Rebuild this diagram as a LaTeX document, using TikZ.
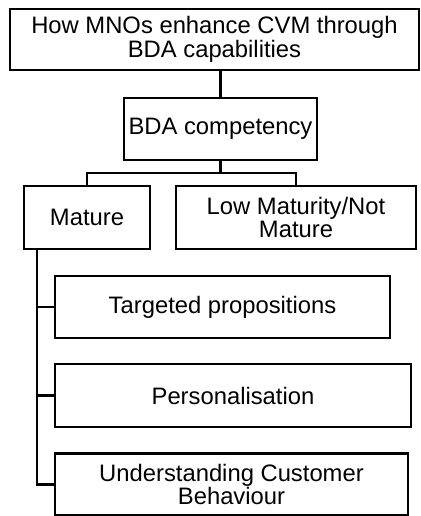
\documentclass[tikz,border=0pt]{standalone}
\usepackage{fontspec}
\setmainfont{Liberation Sans}
\begin{document}
\begin{tikzpicture}[x=1pt,y=-1pt,
  box/.style={draw=black,line width=2.2pt,fill=white,align=center,inner sep=0pt,
    font=\fontsize{23.8}{23.5}\selectfont},
  link/.style={draw=black,line width=2.2pt}]
\useasboundingbox (0,0) rectangle (420,516);
% boxes
\node[box,minimum width=409pt,minimum height=61pt] (top) at (214.5,39.5) {How MNOs enhance CVM through\\BDA capabilities};
\node[box,minimum width=193pt,minimum height=62pt] (bda) at (220.5,129) {BDA competency};
\node[box,minimum width=126pt,minimum height=63pt] (mature) at (87,217.5) {Mature};
\node[box,minimum width=240pt,minimum height=63pt] (low) at (296,217.5) {Low Maturity/Not\\Mature};
\node[box,minimum width=335pt,minimum height=62pt] (tp) at (222.5,307) {Targeted propositions};
\node[box,minimum width=356pt,minimum height=63pt] (pers) at (233,395.5) {Personalisation};
\node[box,minimum width=353pt,minimum height=62pt] (ucb) at (231.5,484.5) {Understanding Customer\\Behaviour};
% connectors
\coordinate (split) at (220.5,173);
\coordinate (stem) at (37,249);
\draw[link] (bda.north) -- (bda.north |- top.south);
\draw[link] (bda.south) -- (split);
\draw[link] (mature.north) |- (split) -| (low.north);
\draw[link] (stem) |- (tp.west);
\draw[link] (stem) |- (pers.west);
\draw[link] (stem) |- (ucb.west);
\end{tikzpicture}
\end{document}
